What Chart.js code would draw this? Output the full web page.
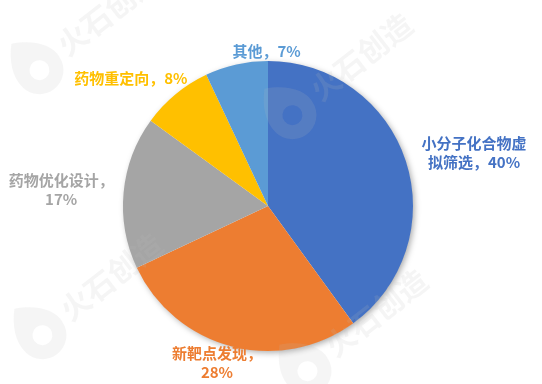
<!DOCTYPE html>
<html>
<head>
<meta charset="utf-8">
<script src="https://cdn.jsdelivr.net/npm/chart.js@4.4.1/dist/chart.umd.min.js"></script>
<style>
  html, body { margin: 0; padding: 0; background: #fff; }
  #wrap { width: 542px; height: 384px; }
</style>
</head>
<body>
<div id="wrap"><canvas id="c" width="542" height="384"></canvas></div>
<script>
// Share of AI applications in drug discovery (%)
const categories = ['小分子化合物虚拟筛选', '新靶点发现', '药物优化设计', '药物重定向', '其他'];
const shares = [40, 28, 17, 8, 7];
const sliceColors = ['#4472C4', '#ED7D31', '#A5A5A5', '#FFC000', '#5B9BD5'];
const watermarkText = '火石创造';

const LABEL_FONT = 'bold 15px "Noto Sans CJK SC", "Noto Sans CJK JP", sans-serif';

// Greedy wrap: CJK characters break anywhere, ASCII runs stay together
function wrapLabel(ctx, text, maxW) {
  const tokens = text.match(/[\x00-\x7F]+|./g) || [];
  const lines = [];
  let cur = '';
  for (const t of tokens) {
    if (cur && ctx.measureText(cur + t).width > maxW) { lines.push(cur); cur = t; }
    else cur += t;
  }
  if (cur) lines.push(cur);
  return lines;
}

// Soft drop shadow behind the whole pie
const pieShadow = {
  id: 'pieShadow',
  beforeDatasetsDraw(chart, args, opts) {
    const arc = chart.getDatasetMeta(0).data[0];
    if (!arc) return;
    const p = arc.getProps(['x', 'y', 'outerRadius'], true);
    const ctx = chart.ctx;
    ctx.save();
    ctx.shadowColor = opts.color;
    ctx.shadowBlur = opts.blur;
    ctx.shadowOffsetX = opts.offsetX;
    ctx.shadowOffsetY = opts.offsetY;
    ctx.fillStyle = '#ffffff';
    ctx.beginPath();
    ctx.arc(p.x, p.y, p.outerRadius - 0.5, 0, Math.PI * 2);
    ctx.fill();
    ctx.restore();
  }
};

// Faint brand watermark: flame mark + rotated text
const watermark = {
  id: 'watermark',
  afterDatasetsDraw(chart, args, opts) {
    const ctx = chart.ctx;
    ctx.save();
    ctx.fillStyle = opts.color;
    opts.spots.forEach(([x, y]) => {
      ctx.save();
      ctx.translate(x, y);
      ctx.rotate(opts.angle);
      // flame mark
      ctx.beginPath();
      ctx.moveTo(-6, -34);
      ctx.bezierCurveTo(14, -24, 26, -8, 24, 6);
      ctx.arc(0, 4, 24, 0.05, Math.PI * 0.95, false);
      ctx.bezierCurveTo(-26, -8, -18, -22, -6, -34);
      ctx.moveTo(10, 4);
      ctx.arc(0, 4, 10, 0, Math.PI * 2, true);
      ctx.fill('evenodd');
      // text
      ctx.font = 'bold 30px "Noto Sans CJK SC", sans-serif';
      ctx.textAlign = 'left';
      ctx.textBaseline = 'middle';
      ctx.fillText(watermarkText, 30, 0);
      ctx.restore();
    });
    ctx.restore();
  }
};

// Category labels placed just outside each slice
const pieLabels = {
  id: 'pieLabels',
  afterDatasetsDraw(chart, args, opts) {
    const ctx = chart.ctx;
    const meta = chart.getDatasetMeta(0);
    const ds = chart.data.datasets[0];
    ctx.save();
    ctx.font = opts.font;
    ctx.textAlign = 'center';
    ctx.textBaseline = 'middle';
    meta.data.forEach((arc, i) => {
      const p = arc.getProps(['x', 'y', 'startAngle', 'endAngle', 'outerRadius'], true);
      const mid = (p.startAngle + p.endAngle) / 2;
      const c = Math.cos(mid), s = Math.sin(mid);
      const R = p.outerRadius + opts.gap;
      const ax = p.x + R * c, ay = p.y + R * s;
      const text = chart.data.labels[i] + '，' + ds.data[i] + '%';
      const lines = wrapLabel(ctx, text, opts.maxWidth);
      const w = Math.max(...lines.map(l => ctx.measureText(l).width));
      const h = lines.length * opts.lineHeight;
      let cx = c > 0.3 ? ax + w / 2 : c < -0.3 ? ax - w / 2 : ax;
      let cy = s < -0.3 ? ay - h / 2 : s > 0.3 ? ay + h / 2 : ay;
      const n = opts.nudge[i] || [0, 0];
      cx += n[0];
      cy += n[1];
      ctx.fillStyle = ds.backgroundColor[i];
      lines.forEach((l, k) => ctx.fillText(l, cx, cy - h / 2 + opts.lineHeight * (k + 0.5)));
    });
    ctx.restore();
  }
};

new Chart(document.getElementById('c'), {
  type: 'pie',
  data: {
    labels: categories,
    datasets: [{
      data: shares,
      backgroundColor: sliceColors,
      borderWidth: 0,
      hoverOffset: 0
    }]
  },
  options: {
    responsive: false,
    animation: false,
    events: [],
    layout: { padding: { left: 123, right: 129, top: 61, bottom: 33 } },
    plugins: {
      legend: { display: false },
      tooltip: { enabled: false },
      pieShadow: { color: 'rgba(0,0,0,0.35)', blur: 6, offsetX: 2, offsetY: 2 },
      watermark: {
        color: 'rgba(190,190,190,0.15)',
        angle: -0.66,
        spots: [[37, 67], [290, 112], [40, 332], [305, 368]]
      },
      pieLabels: {
        font: LABEL_FONT,
        gap: 8,
        maxWidth: 116,
        lineHeight: 19,
        nudge: [[8, 13], [-13, -10], [-2, -2], [17, 0], [32, 4]]
      }
    }
  },
  plugins: [pieShadow, watermark, pieLabels]
});
</script>
</body>
</html>
